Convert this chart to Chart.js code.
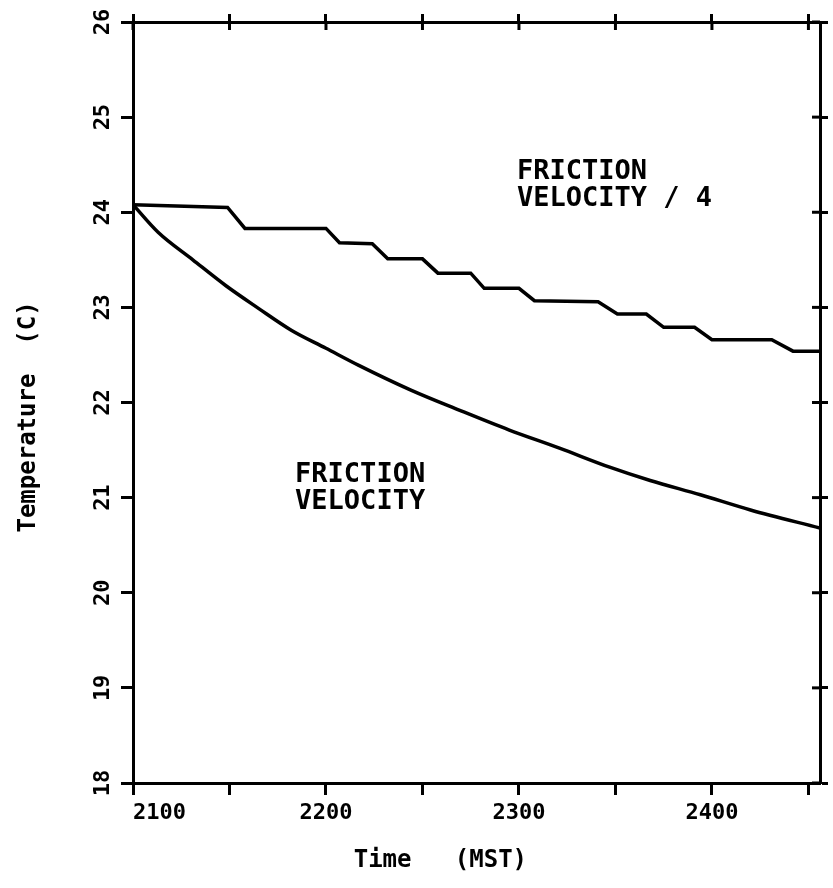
<!DOCTYPE html>
<html>
<head>
<meta charset="utf-8">
<script src="https://cdn.jsdelivr.net/npm/chart.js@4.4.0/dist/chart.umd.min.js"></script>
<style>
  html, body { margin: 0; padding: 0; background: #fff; }
  #wrap { width: 833px; height: 888px; }
</style>
</head>
<body>
<div id="wrap"><canvas id="chart"></canvas></div>
<script>
// values: time (MST) vs temperature (C)
const smoothTime = [2100, 2113, 2131, 2148, 2165, 2182, 2200, 2217, 2244, 2269, 2295, 2321, 2347, 2368, 2394, 2420, 2456];
const smoothTemp = [24.08, 23.79, 23.50, 23.23, 22.99, 22.76, 22.57, 22.39, 22.13, 21.92, 21.71, 21.52, 21.32, 21.18, 21.03, 20.87, 20.68];

const stepTime = [2100, 2149, 2158, 2200, 2207, 2224, 2232, 2250, 2258, 2275, 2282, 2300, 2308, 2341, 2351, 2366, 2375, 2391, 2400, 2431, 2442, 2456];
const stepTemp = [24.08, 24.05, 23.83, 23.83, 23.68, 23.67, 23.51, 23.51, 23.36, 23.36, 23.20, 23.20, 23.07, 23.06, 22.93, 22.93, 22.79, 22.79, 22.66, 22.66, 22.54, 22.54];

const xTickLabels = ['2100', '2200', '2300', '2400'];
const yTickLabels = ['18', '19', '20', '21', '22', '23', '24', '25', '26'];

const FONT = "'DejaVu Sans Mono', monospace";

// in-plot labels, placed in data units
const notes = [
  { lines: ['FRICTION', 'VELOCITY / 4'], x: 2299, y: 24.42 },
  { lines: ['FRICTION', 'VELOCITY'], x: 2184, y: 21.24 }
];

const toPoints = (xs, ys) => xs.map((x, i) => ({ x: x, y: ys[i] }));

const crossTicks = {
  id: 'crossTicks',
  afterDraw(chart) {
    const { ctx, chartArea } = chart;
    const x2 = chart.scales.x2, y2 = chart.scales.y2;
    ctx.save();
    ctx.strokeStyle = '#000';
    ctx.lineWidth = 3;
    x2.ticks.forEach(t => {
      const px = x2.getPixelForValue(t.value);
      ctx.beginPath(); ctx.moveTo(px, chartArea.top); ctx.lineTo(px, chartArea.top + 8); ctx.stroke();
    });
    y2.ticks.forEach(t => {
      const py = y2.getPixelForValue(t.value);
      ctx.beginPath(); ctx.moveTo(chartArea.right, py); ctx.lineTo(chartArea.right - 8, py); ctx.stroke();
    });
    ctx.restore();
  }
};

const noteLabels = {
  id: 'noteLabels',
  afterDatasetsDraw(chart) {
    const { ctx } = chart;
    const xs = chart.scales.x, ys = chart.scales.y;
    ctx.save();
    ctx.fillStyle = '#000';
    ctx.font = "bold 27px " + FONT;
    ctx.textAlign = 'left';
    ctx.textBaseline = 'middle';
    notes.forEach(n => {
      const px = xs.getPixelForValue(n.x);
      const py = ys.getPixelForValue(n.y);
      n.lines.forEach((l, i) => ctx.fillText(l, px, py + i * 27));
    });
    ctx.restore();
  }
};

const tickFont = { family: FONT, size: 22, weight: 'bold' };
const titleFont = { family: FONT, size: 24, weight: 'bold' };

new Chart(document.getElementById('chart'), {
  type: 'line',
  data: {
    datasets: [
      {
        label: 'Friction velocity / 4',
        data: toPoints(stepTime, stepTemp),
        borderColor: '#000',
        borderWidth: 3.5,
        pointRadius: 0,
        tension: 0,
        fill: false
      },
      {
        label: 'Friction velocity',
        data: toPoints(smoothTime, smoothTemp),
        borderColor: '#000',
        borderWidth: 3.5,
        pointRadius: 0,
        cubicInterpolationMode: 'monotone',
        fill: false
      }
    ]
  },
  options: {
    responsive: true,
    maintainAspectRatio: false,
    animation: false,
    layout: { padding: 0 },
    plugins: { legend: { display: false }, tooltip: { enabled: false } },
    scales: {
      x: {
        type: 'linear', position: 'bottom', min: 2100, max: 2456,
        ticks: {
          stepSize: 50, includeBounds: false, autoSkip: false, maxRotation: 0, padding: 5,
          color: '#000', font: tickFont,
          // first label sits right of its tick, as in the original
          callback: (v, i) => xTickLabels.includes(String(v)) ? (i === 0 ? '    ' + v : String(v)) : ''
        },
        grid: { drawOnChartArea: false, tickLength: 12, tickWidth: 3, color: '#000' },
        border: { color: '#000', width: 3 },
        title: { display: true, text: 'Time   (MST)     ', color: '#000', font: titleFont, padding: { top: 0, bottom: 13 } },
        afterFit: s => { s.height = 105; }
      },
      y: {
        type: 'linear', position: 'left', min: 18, max: 26,
        ticks: {
          stepSize: 1, minRotation: 90, maxRotation: 90, crossAlign: 'center', padding: 4,
          color: '#000', font: tickFont,
          callback: v => yTickLabels.includes(String(v)) ? String(v) : ''
        },
        grid: { drawOnChartArea: false, tickLength: 12, tickWidth: 3, color: '#000' },
        border: { color: '#000', width: 3 },
        title: { display: true, text: 'Temperature  (C)  ', color: '#000', font: titleFont, padding: { top: 14, bottom: 0 } },
        afterFit: s => { s.width = 133; }
      },
      x2: {
        type: 'linear', position: 'top', min: 2100, max: 2456,
        ticks: { stepSize: 50, includeBounds: false, display: false },
        grid: { drawOnChartArea: false, tickLength: 8, tickWidth: 3, color: '#000' },
        border: { color: '#000', width: 3 },
        afterFit: s => { s.height = 22; }
      },
      y2: {
        type: 'linear', position: 'right', min: 18, max: 26,
        ticks: { stepSize: 1, display: false },
        grid: { drawOnChartArea: false, tickLength: 8, tickWidth: 3, color: '#000' },
        border: { color: '#000', width: 3 },
        afterFit: s => { s.width = 13; }
      }
    }
  },
  plugins: [crossTicks, noteLabels]
});
</script>
</body>
</html>
